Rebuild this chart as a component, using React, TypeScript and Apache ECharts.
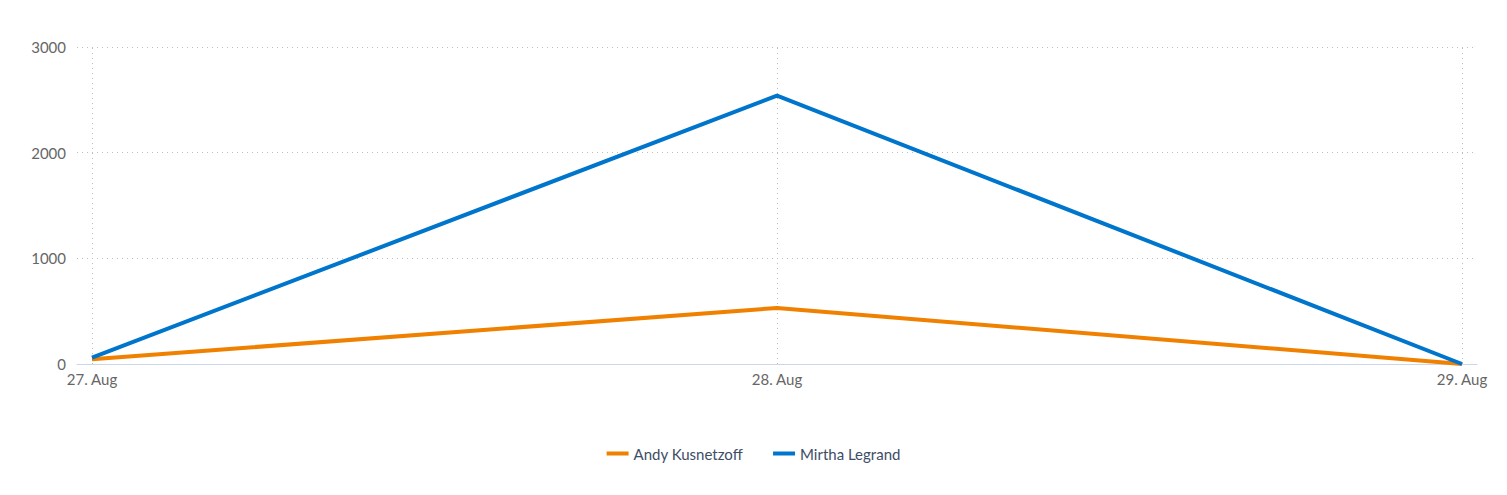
import React, { useEffect, useRef } from "react";
import * as echarts from "echarts";

const categories = ["27. Aug", "28. Aug", "29. Aug"];
const andy = [45, 530, 0];
const mirtha = [60, 2540, 0];
const seriesNames = ["Andy Kusnetzoff", "Mirtha Legrand"];

export default function App() {
  const ref = useRef<HTMLDivElement>(null);
  useEffect(() => {
    const chart = echarts.init(ref.current!, null, { renderer: "svg" });
    const pad = 0.0219;
    const idx = categories.map((_, i) => i);
    const dotted = { color: "#bdbdbd", width: 1, type: [1, 4] as number[] };
    chart.setOption({
      animation: false,
      textStyle: { fontFamily: "Lato" },
      grid: { left: 69, right: 22, top: 39, bottom: 123, containLabel: false },
      legend: {
        bottom: 21,
        left: "center",
        icon: "rect",
        itemWidth: 22,
        itemHeight: 4,
        itemGap: 30,
        textStyle: { color: "#3d4d66", fontSize: 15, fontFamily: "Lato" },
        data: seriesNames,
      },
      xAxis: {
        type: "value",
        min: -pad,
        max: categories.length - 1 + pad,
        axisLine: { show: true, lineStyle: { color: "#ccd6eb", width: 1 } },
        axisTick: { show: false },
        axisLabel: {
          color: "#666",
          fontSize: 15,
          margin: 7,
          customValues: idx,
          formatter: (v: number) => categories[Math.round(v)] ?? "",
        },
        splitLine: { show: false },
      },
      yAxis: {
        type: "value",
        min: 0,
        max: 3000,
        interval: 1000,
        axisLine: { show: false },
        axisTick: { show: false },
        axisLabel: { color: "#666", fontSize: 15, margin: 11, formatter: (v: number) => String(v) },
        splitLine: { lineStyle: dotted },
      },
      series: [
        {
          name: seriesNames[0],
          type: "line",
          data: andy.map((v, i) => [idx[i], v]),
          symbol: "none",
          lineStyle: { color: "#f08000", width: 4 },
          itemStyle: { color: "#f08000" },
          z: 3,
          markLine: {
            silent: true,
            symbol: "none",
            label: { show: false },
            lineStyle: dotted,
            data: idx.map((i) => ({ xAxis: i })),
            z: 1,
          },
        },
        {
          name: seriesNames[1],
          type: "line",
          data: mirtha.map((v, i) => [idx[i], v]),
          symbol: "none",
          lineStyle: { color: "#0075cc", width: 4 },
          itemStyle: { color: "#0075cc" },
          z: 4,
        },
      ],
    });
    return () => chart.dispose();
  }, []);
  return <div ref={ref} style={{ width: 1491, height: 479 }} />;
}
